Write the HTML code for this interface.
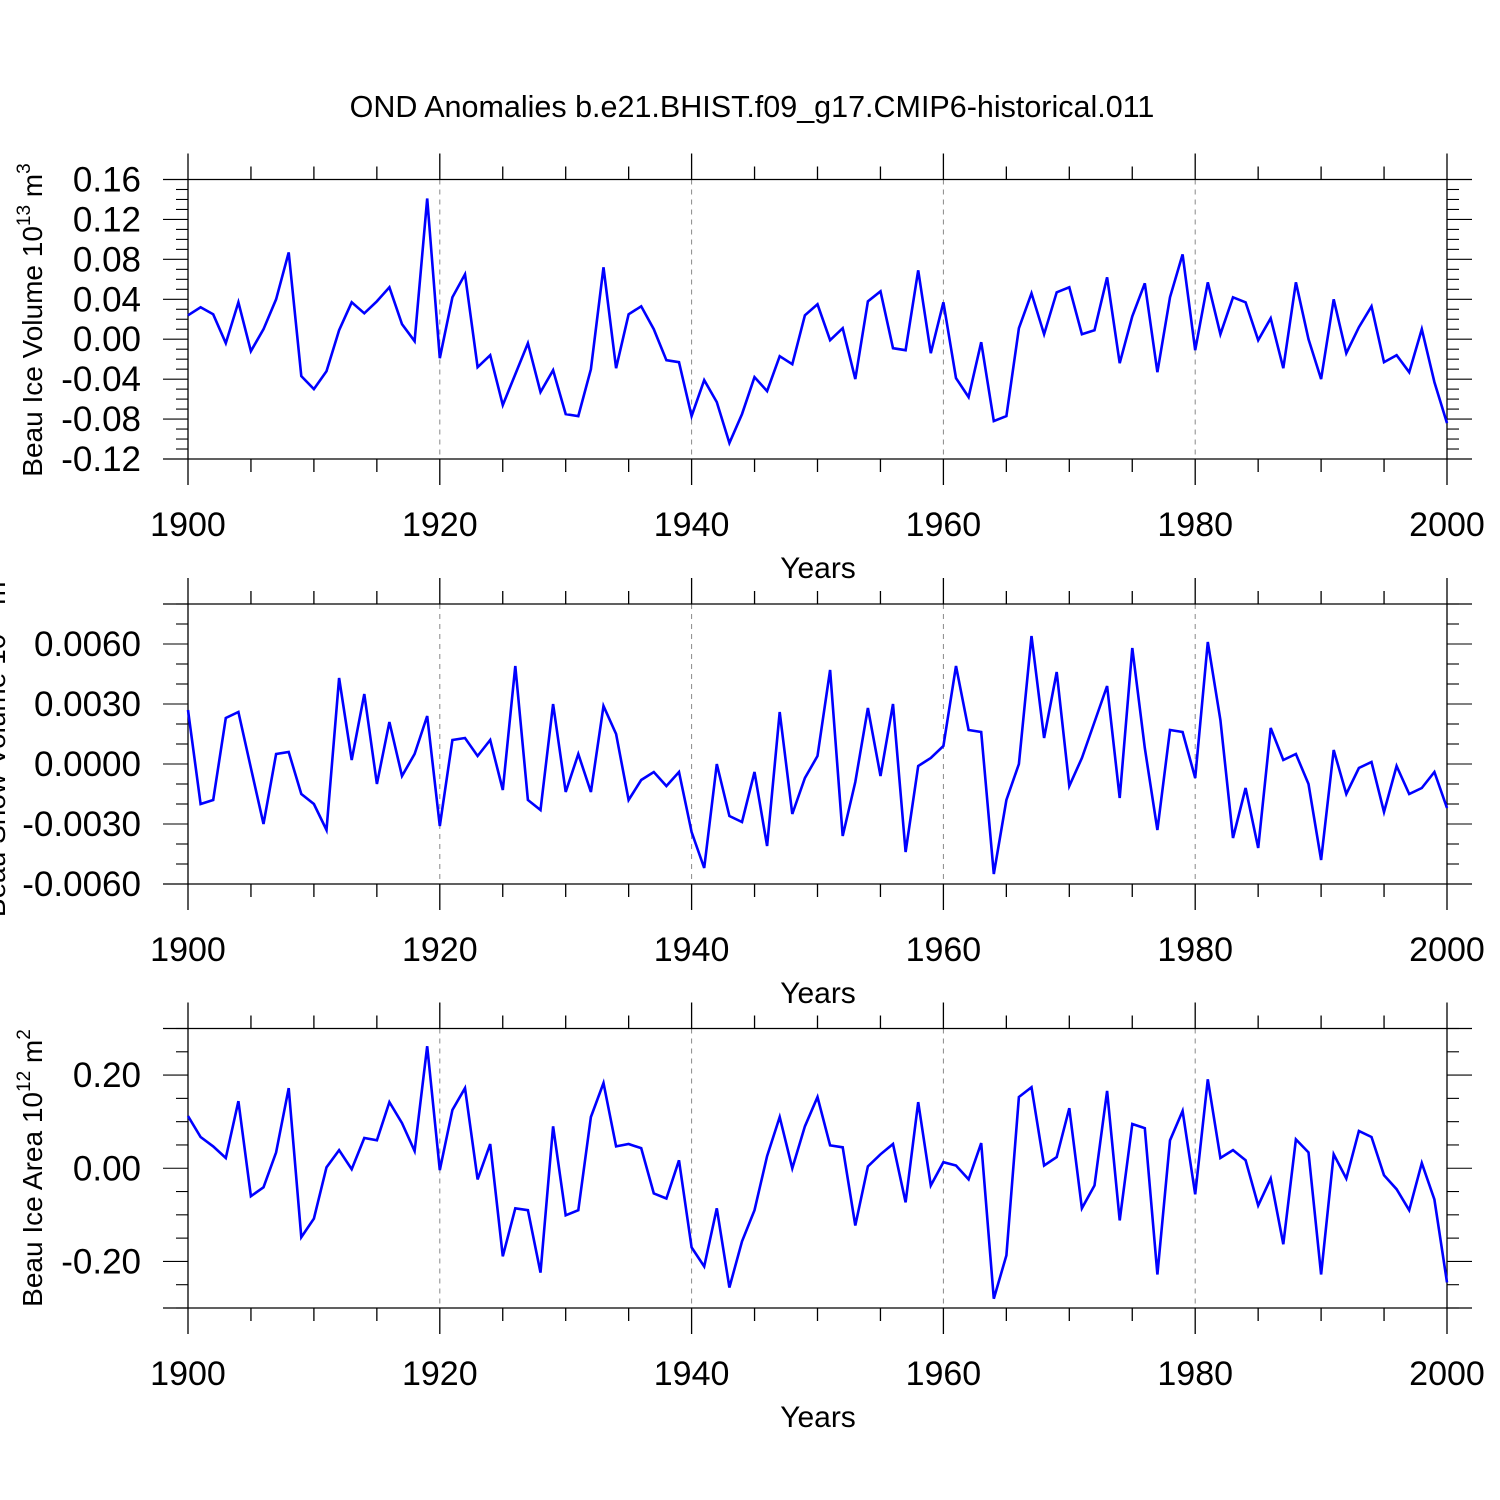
<!DOCTYPE html>
<html><head><meta charset="utf-8"><style>
body{margin:0;background:#fff}
svg{display:block;font-family:"Liberation Sans",sans-serif}
</style></head><body>
<svg id="c" width="1500" height="1500" viewBox="0 0 1500 1500" xmlns="http://www.w3.org/2000/svg">
<text x="752" y="117" font-size="30.5" text-anchor="middle">OND Anomalies b.e21.BHIST.f09_g17.CMIP6-historical.011</text>
</svg>
<script>
const years = []; for (let y = 1900; y <= 2000; y++) years.push(y);
const xTickLabels = ["1900","1920","1940","1960","1980","2000"];
const iceVolume = [0.024,0.032,0.025,-0.004,0.037,-0.012,0.010,0.040,0.087,-0.037,-0.050,-0.032,0.009,0.037,0.026,0.038,0.052,0.015,-0.002,0.141,
-0.019,0.042,0.065,-0.028,-0.016,-0.066,-0.035,-0.004,-0.053,-0.031,-0.075,-0.077,-0.030,0.072,-0.029,0.025,0.033,0.010,-0.021,-0.023,
-0.077,-0.041,-0.063,-0.104,-0.075,-0.038,-0.052,-0.017,-0.025,0.024,0.035,-0.001,0.011,-0.040,0.038,0.048,-0.009,-0.011,0.069,-0.014,
0.037,-0.039,-0.058,-0.003,-0.082,-0.077,0.011,0.046,0.005,0.047,0.052,0.005,0.009,0.062,-0.024,0.023,0.056,-0.033,0.042,0.085,
-0.011,0.057,0.005,0.042,0.037,-0.001,0.021,-0.029,0.057,0.000,-0.040,0.040,-0.014,0.012,0.033,-0.023,-0.016,-0.033,0.010,-0.043,-0.084];
const snowVolume = [0.0027,-0.0020,-0.0018,0.0023,0.0026,-0.0002,-0.0030,0.0005,0.0006,-0.0015,-0.0020,-0.0033,0.0043,0.0002,0.0035,-0.0010,0.0021,-0.0006,0.0005,0.0024,
-0.0031,0.0012,0.0013,0.0004,0.0012,-0.0013,0.0049,-0.0018,-0.0023,0.0030,-0.0014,0.0005,-0.0014,0.0029,0.0015,-0.0018,-0.0008,-0.0004,-0.0011,-0.0004,
-0.0034,-0.0052,0.0000,-0.0026,-0.0029,-0.0004,-0.0041,0.0026,-0.0025,-0.0007,0.0004,0.0047,-0.0036,-0.0009,0.0028,-0.0006,0.0030,-0.0044,-0.0001,0.0003,
0.0009,0.0049,0.0017,0.0016,-0.0055,-0.0018,0.0000,0.0064,0.0013,0.0046,-0.0011,0.0003,0.0021,0.0039,-0.0017,0.0058,0.0008,-0.0033,0.0017,0.0016,
-0.0007,0.0061,0.0022,-0.0037,-0.0012,-0.0042,0.0018,0.0002,0.0005,-0.0010,-0.0048,0.0007,-0.0015,-0.0002,0.0001,-0.0024,-0.0001,-0.0015,-0.0012,-0.0004,-0.0022];
const iceArea = [0.112,0.067,0.047,0.022,0.144,-0.060,-0.041,0.034,0.172,-0.148,-0.108,0.002,0.039,-0.002,0.065,0.060,0.142,0.097,0.037,0.262,
-0.004,0.125,0.172,-0.024,0.052,-0.189,-0.086,-0.090,-0.224,0.090,-0.101,-0.090,0.110,0.183,0.047,0.052,0.043,-0.054,-0.065,0.017,
-0.170,-0.211,-0.086,-0.256,-0.157,-0.090,0.026,0.110,0.000,0.090,0.153,0.049,0.045,-0.123,0.004,0.030,0.052,-0.073,0.142,-0.037,
0.013,0.006,-0.024,0.054,-0.280,-0.187,0.153,0.174,0.006,0.024,0.129,-0.086,-0.037,0.166,-0.112,0.095,0.086,-0.228,0.060,0.123,
-0.056,0.191,0.022,0.039,0.017,-0.080,-0.022,-0.163,0.062,0.034,-0.228,0.030,-0.022,0.080,0.067,-0.015,-0.045,-0.090,0.011,-0.067,-0.245];
const yTicks1 = ["0.16","0.12","0.08","0.04","0.00","-0.04","-0.08","-0.12"];
const yTicks2 = ["0.0060","0.0030","0.0000","-0.0030","-0.0060"];
const yTicks3 = ["0.20","0.00","-0.20"];

const svg = document.getElementById('c');
const NS = 'http://www.w3.org/2000/svg';
function mk(tag, a, parent){const e=document.createElementNS(NS,tag);for(const k in a)e.setAttribute(k,a[k]);(parent||svg).appendChild(e);return e;}
const X0=188, X1=1447;
const xs = yr => X0 + (yr-1900)*(X1-X0)/100;

function panel(cfg){
  const g = mk('g',{});
  
  
  const ys = v => cfg.top + (cfg.ymax - v)*(cfg.bot-cfg.top)/(cfg.ymax-cfg.ymin);
  for (const yr of [1920,1940,1960,1980]) {
    const l = mk('line',{x1:xs(yr),x2:xs(yr),y1:cfg.top,y2:cfg.bot,stroke:'#888','stroke-width':1,'stroke-dasharray':'5,5'},g);
    
    
  }
  mk('line',{x1:X0-25,x2:X1+25,y1:cfg.top,y2:cfg.top,stroke:'#000','stroke-width':1.3},g);
  mk('line',{x1:X0-25,x2:X1+25,y1:cfg.bot,y2:cfg.bot,stroke:'#000','stroke-width':1.3},g);
  mk('line',{x1:X0,x2:X0,y1:cfg.top-26,y2:cfg.bot+26,stroke:'#000','stroke-width':1.3},g);
  mk('line',{x1:X1,x2:X1,y1:cfg.top-26,y2:cfg.bot+26,stroke:'#000','stroke-width':1.3},g);
  for (let yr=1905; yr<2000; yr+=5){
    const len = yr%20===0 ? 26 : 13;
    mk('line',{x1:xs(yr),x2:xs(yr),y1:cfg.top-len,y2:cfg.top,stroke:'#000','stroke-width':1.3},g);
    mk('line',{x1:xs(yr),x2:xs(yr),y1:cfg.bot,y2:cfg.bot+len,stroke:'#000','stroke-width':1.3},g);
  }
  for (let v=cfg.ymin; v<=cfg.ymax+1e-9; v+=cfg.minor){
    const isMaj = Math.abs(Math.round((v-cfg.majBase)/cfg.major)*cfg.major-(v-cfg.majBase))<cfg.minor/10;
    const len = isMaj?25:12, y=ys(v);
    mk('line',{x1:X0-len,x2:X0,y1:y,y2:y,stroke:'#000','stroke-width':1.1},g);
    mk('line',{x1:X1,x2:X1+len,y1:y,y2:y,stroke:'#000','stroke-width':1.1},g);
  }
  cfg.labels.forEach(s=>{
    const t = mk('text',{x:141,y:ys(parseFloat(s))+12,'font-size':35,'text-anchor':'end'},g);
    t.textContent=s;
    
    
  });
  xTickLabels.forEach(s=>{
    const t = mk('text',{x:xs(+s),y:cfg.bot+77,'font-size':34,'text-anchor':'middle'},g);
    t.textContent=s;
    
    
  });
  const xt = mk('text',{x:818,y:cfg.bot+119,'font-size':30,'text-anchor':'middle'},g);
  xt.textContent='Years';
  
  
  const yt = mk('text',{transform:`translate(${cfg.ylx},${cfg.ylc}) rotate(-90)`,'font-size':28,'text-anchor':'middle'},g);
  yt.innerHTML = cfg.ylabel;
  
  
  const pts = cfg.data.map((v,i)=>xs(years[i]).toFixed(1)+','+ys(v).toFixed(1)).join(' ');
  const pl = mk('polyline',{points:pts,fill:'none',stroke:'#0000ff','stroke-width':2.6,'stroke-linejoin':'miter'},g);
  
  
}
panel({name:'ice-volume-panel',top:179.5,bot:459,ymin:-0.12,ymax:0.16,minor:0.01,major:0.04,majBase:-0.12,labels:yTicks1,data:iceVolume,ylx:42,ylc:320,
  ylabel:'Beau Ice Volume 10<tspan dy="-12" font-size="19">13</tspan><tspan dy="12"> m</tspan><tspan dy="-12" font-size="19">3</tspan>'});
panel({name:'snow-volume-panel',top:604,bot:884,ymin:-0.006,ymax:0.008,minor:0.001,major:0.003,majBase:-0.006,labels:yTicks2,data:snowVolume,ylx:5,ylc:744,
  ylabel:'Beau Snow Volume 10<tspan dy="-12" font-size="19">13</tspan><tspan dy="12"> m</tspan><tspan dy="-12" font-size="19">3</tspan>'});
panel({name:'ice-area-panel',top:1028.5,bot:1308,ymin:-0.30,ymax:0.30,minor:0.05,major:0.2,majBase:-0.2,labels:yTicks3,data:iceArea,ylx:42,ylc:1168,
  ylabel:'Beau Ice Area 10<tspan dy="-12" font-size="19">12</tspan><tspan dy="12"> m</tspan><tspan dy="-12" font-size="19">2</tspan>'});
</script>
</body></html>
